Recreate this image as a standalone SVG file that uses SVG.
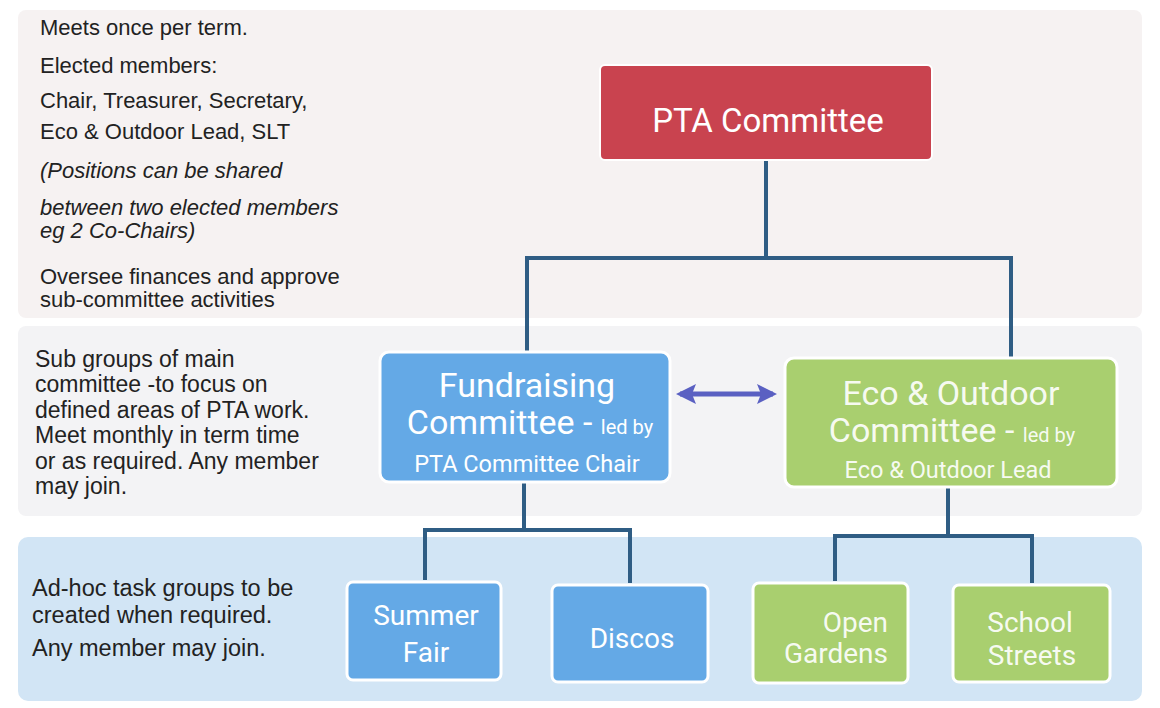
<svg xmlns="http://www.w3.org/2000/svg" width="1160" height="708" viewBox="0 0 1160 708">
<defs>
<style>
.desc{font-family:"Liberation Sans",Arial,sans-serif;font-size:22px;fill:#222;}
.d2{font-size:23px;}
.d3{font-size:23.5px;}
.it{font-style:italic;}
.nl{font-family:Roboto,"Liberation Sans",sans-serif;fill:#ffffff;text-anchor:middle;}
.big{font-size:34px;}
.sm{font-size:20px;}
.mid{font-size:23.5px;}
.task{font-size:28px;}
.conn{fill:none;stroke:#2f5d84;stroke-width:4;stroke-linejoin:miter;}
.blue{fill:#64a9e6;stroke:#ffffff;stroke-width:3;}
.green{fill:#a9cf6f;stroke:#ffffff;stroke-width:3;}
</style>
<marker id="ah" viewBox="0 0 10 10" refX="8" refY="5" markerWidth="4" markerHeight="4" orient="auto-start-reverse" markerUnits="strokeWidth">
<path d="M0,0 L10,5 L0,10 L2,5 Z" fill="#5a60c2"/>
</marker>
</defs>
<rect width="1160" height="708" fill="#ffffff"/>
<g id="bands">
<rect x="18" y="10" width="1124" height="308" rx="8" fill="#f6f2f2"/>
<rect x="18" y="326" width="1124" height="190" rx="8" fill="#f3f3f5"/>
<rect x="18" y="537" width="1124" height="164" rx="10" fill="#d2e5f5"/>
</g>
<g id="desc-top">
<text class="desc" x="40" y="35">Meets once per term.</text>
<text class="desc" x="40" y="73">Elected members:</text>
<text class="desc" x="40" y="108">Chair, Treasurer, Secretary,</text>
<text class="desc" x="40" y="139">Eco &amp; Outdoor Lead, SLT</text>
<text class="desc it" x="40" y="178">(Positions can be shared</text>
<text class="desc it" x="40" y="215">between two elected members</text>
<text class="desc it" x="40" y="238">eg 2 Co-Chairs)</text>
<text class="desc" x="40" y="284">Oversee finances and approve</text>
<text class="desc" x="40" y="307">sub-committee activities</text>
</g>
<g id="desc-mid">
<text class="desc d2" x="35" y="367">Sub groups of main</text>
<text class="desc d2" x="35" y="392">committee -to focus on</text>
<text class="desc d2" x="35" y="418">defined areas of PTA work.</text>
<text class="desc d2" x="35" y="443">Meet monthly in term time</text>
<text class="desc d2" x="35" y="469">or as required. Any member</text>
<text class="desc d2" x="35" y="494">may join.</text>
</g>
<g id="desc-bottom">
<text class="desc d3" x="32" y="596">Ad-hoc task groups to be</text>
<text class="desc d3" x="32" y="623">created when required.</text>
<text class="desc d3" x="32" y="656">Any member may join.</text>
</g>
<g id="connectors">
<path class="conn" d="M766,160 V258 M527,258 H1011 M527,256 V352 M1011,256 V360"/>
<path class="conn" d="M524,482 V530 M425,530 H630 M425,528 V580 M630,528 V583"/>
<path class="conn" d="M948,487 V536 M835,536 H1032 M835,534 V581 M1032,534 V583"/>
<line x1="680" y1="394" x2="773" y2="394" stroke="#5a60c2" stroke-width="5" marker-start="url(#ah)" marker-end="url(#ah)"/>
</g>
<g id="pta">
<rect x="600" y="65" width="332" height="95" rx="5" fill="#c9434f" stroke="#ffffff" stroke-width="2"/>
<text class="nl" x="768" y="132" font-size="33">PTA Committee</text>
</g>
<g id="fundraising">
<rect x="380" y="352" width="290" height="130" rx="9" class="blue"/>
<text class="nl big" x="527" y="397">Fundraising</text>
<text class="nl" x="530" y="434"><tspan class="big">Committee - </tspan><tspan class="sm">led by</tspan></text>
<text class="nl mid" x="527" y="472">PTA Committee Chair</text>
</g>
<g id="eco">
<rect x="785" y="358" width="332" height="129" rx="9" class="green"/>
<text class="nl big" x="951" y="405" fill-opacity="0.92">Eco &amp; Outdoor</text>
<text class="nl" x="952" y="442" fill-opacity="0.92"><tspan class="big">Committee - </tspan><tspan class="sm">led by</tspan></text>
<text class="nl mid" x="948" y="478" fill-opacity="0.92">Eco &amp; Outdoor Lead</text>
</g>
<g id="summer-fair">
<rect x="347" y="582" width="154" height="98" rx="6" class="blue"/>
<text class="nl task" x="426" y="625">Summer</text>
<text class="nl task" x="426" y="662">Fair</text>
</g>
<g id="discos">
<rect x="552" y="585" width="156" height="97" rx="6" class="blue"/>
<text class="nl task" x="632" y="648">Discos</text>
</g>
<g id="open-gardens">
<rect x="753" y="583" width="155" height="100" rx="6" class="green"/>
<text class="nl task" x="888" y="632" style="text-anchor:end" fill-opacity="0.92">Open</text>
<text class="nl task" x="888" y="663" style="text-anchor:end" fill-opacity="0.92">Gardens</text>
</g>
<g id="school-streets">
<rect x="953" y="585" width="157" height="97" rx="6" class="green"/>
<text class="nl task" x="1030" y="632" fill-opacity="0.92">School</text>
<text class="nl task" x="1032" y="665" fill-opacity="0.92">Streets</text>
</g>
</svg>
